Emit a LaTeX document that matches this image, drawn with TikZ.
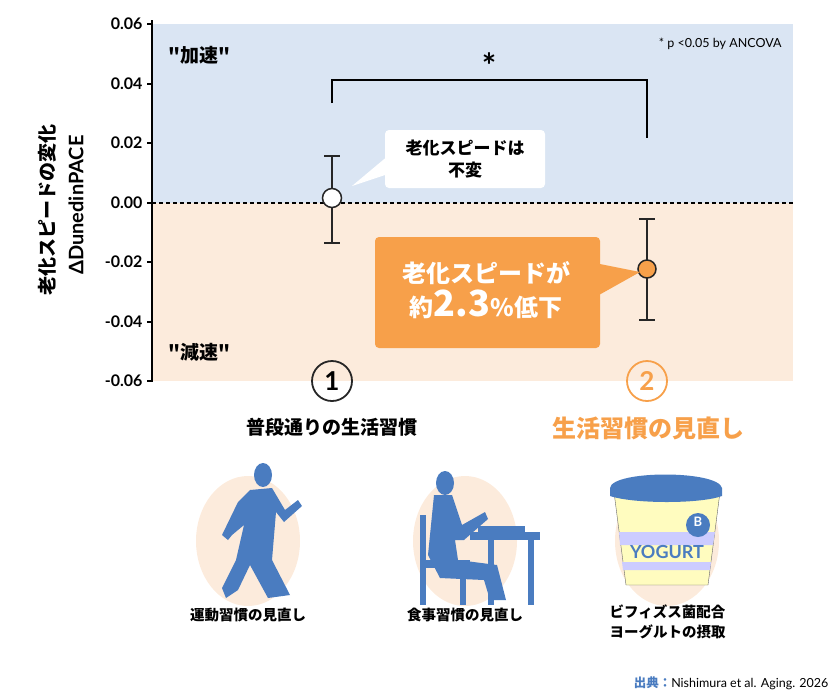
\documentclass[tikz,border=0pt]{standalone}
\usepackage{fontspec}
\setmainfont{Lato}
\newfontfamily\jp{Noto Sans CJK JP}
\begin{document}
\begin{tikzpicture}[x=1pt,y=-1pt,
  tick/.style={font=\fontsize{16}{16}\selectfont\bfseries, anchor=east},
  eb/.style={line width=1.5pt, draw=black!85},
  jcap/.style={font=\jp\fontsize{19}{20}\selectfont\bfseries}]
\definecolor{fg}{HTML}{4A7CC0}
\definecolor{org}{HTML}{F7A04A}
\definecolor{bband}{HTML}{DAE5F3}
\definecolor{oband}{HTML}{FCEBDC}
\useasboundingbox (0,0) rectangle (840,694);
% bands
\fill[bband] (152,24) rectangle (793,203);
\fill[oband] (152,203) rectangle (793,381);
\draw[line width=2pt, dash pattern=on 4pt off 3pt] (152,203) -- (793,203);
\draw[line width=2pt] (152,20) -- (152,382);
\foreach \v/\y in {0.06/24,0.04/84,0.02/143,0.00/203,-0.02/262,-0.04/322,-0.06/381}{
  \draw[line width=1.5pt] (147,\y) -- (152,\y);
  \node[tick] (t\y) at (146,\y) {\v};}
\node[font=\jp\fontsize{19}{20}\selectfont\bfseries, rotate=90] (yl1) at (47,210) {老化スピードの変化};
\node[font=\fontsize{20}{18}\selectfont\bfseries, rotate=90] (yl2) at (76,205) {ΔDunedinPACE};
\node[jcap, anchor=west] (acc) at (165,55) {"加速"};
\node[jcap, anchor=west] (dec) at (165,352) {"減速"};
\node[font=\fontsize{12.5}{12}\selectfont, anchor=east] (ancova) at (785,44) {* p <0.05 by ANCOVA};
% bracket
\draw[line width=1.5pt] (332,103) -- (332,80) -- (647,80) -- (647,138);
\node[font=\fontsize{34}{34}\selectfont\bfseries] (star) at (489,66) {*};
% error bars
\draw[eb] (332,156) -- (332,243) (324,156)--(340,156) (324,243)--(340,243);
\draw[eb] (647,219) -- (647,320) (639,219)--(655,219) (639,320)--(655,320);
\node[circle, draw=black!85, line width=1.5pt, fill=white, minimum size=19pt, inner sep=0] (p1) at (332,198) {};
\node[circle, draw=black!85, line width=1.5pt, fill=org, minimum size=18pt, inner sep=0] (p2) at (647,269) {};
% callouts
\fill[white, rounded corners=4pt] (385,130) rectangle (545,188);
\fill[white] (395,150) -- (352,186) -- (400,170) -- cycle;
\node[font=\jp\fontsize{17}{22}\selectfont\bfseries, align=center] (c1) at (465,159) {老化スピードは\\不変};
\fill[org, rounded corners=4pt] (375,237) rectangle (600,348);
\fill[org] (590,262) -- (640,272) -- (590,300) -- cycle;
\node[font=\jp\fontsize{24}{34}\selectfont\bfseries, text=white, align=center] (c2) at (486,290) {老化スピードが\\約{\fontsize{36}{30}\selectfont 2.3}\%低下};
% groups
\node[circle, draw=black!85, line width=1.8pt, minimum size=40pt, inner sep=0, font=\fontsize{26}{26}\selectfont\bfseries] (g1) at (332,381) {1};
\node[circle, draw=org, line width=1.8pt, minimum size=40pt, inner sep=0, font=\fontsize{26}{26}\selectfont\bfseries, text=org] (g2) at (647,381) {2};
\node[font=\jp\fontsize{19}{20}\selectfont\bfseries] (l1) at (332,427) {普段通りの生活習慣};
\node[font=\jp\fontsize{24}{24}\selectfont\bfseries, text=org] (l2) at (648,428) {生活習慣の見直し};
% icons
\fill[oband] (248,541) ellipse (52 and 65);
\fill[oband] (465,541) ellipse (52 and 65);
\fill[oband] (667,541) ellipse (52 and 65);
% walker
\fill[fg] (263,475) ellipse (9 and 12);
\fill[fg] (250,490) -- (272,488) -- (285,510) -- (298,500) -- (302,506) -- (284,522) -- (276,512) -- (272,560) -- (290,595) -- (268,598) -- (250,565) -- (238,590) -- (226,598) -- (222,588) -- (236,560) -- (244,525) -- (232,535) -- (228,540) -- (222,535) -- (238,502) -- cycle;
% eater
\fill[fg] (445,483) ellipse (9 and 12);
\fill[fg] (434,495) -- (452,495) -- (462,525) -- (485,512) -- (488,519) -- (464,540) -- (455,540) -- (458,560) -- (497,565) -- (506,600) -- (490,600) -- (484,580) -- (440,578) -- (428,555) -- cycle;
\fill[fg] (420,515) rectangle (426,605);
\fill[fg] (420,560) rectangle (470,568);
\fill[fg] (460,565) rectangle (466,605);
\fill[fg] (470,532) rectangle (540,540);
\fill[fg] (488,538) rectangle (494,605);
\fill[fg] (528,538) rectangle (534,605);
\fill[fg] (478,526) rectangle (525,532);
% yogurt
\fill[yellow!25, draw=black!60] (614,492) -- (720,492) -- (708,585) -- (626,585) -- cycle;
\fill[blue!20] (619,532) -- (715,532) -- (713,545) -- (620,545) -- cycle;
\fill[blue!20] (622,562) -- (711,562) -- (710,570) -- (623,570) -- cycle;
\fill[fg] (610,488) .. controls (612,470) and (718,470) .. (722,488) -- (722,496) .. controls (700,504) and (634,504) .. (610,496) -- cycle;
\fill[fg] (698,525) circle (12);
\node[font=\fontsize{13}{13}\selectfont\bfseries, text=white] (bb) at (698,522) {B};
\node[font=\fontsize{18}{18}\selectfont\bfseries, text=fg] (yg) at (667,552) {YOGURT};
\node[font=\jp\fontsize{14.5}{15}\selectfont\bfseries] (i1) at (248,615) {運動習慣の見直し};
\node[font=\jp\fontsize{14.5}{15}\selectfont\bfseries] (i2) at (465,615) {食事習慣の見直し};
\node[font=\jp\fontsize{14.5}{20}\selectfont\bfseries, align=left, anchor=north west] (i3) at (606,601) {ビフィズス菌配合\\ヨーグルトの摂取};
\node[font=\fontsize{12.5}{12}\selectfont, anchor=east] (src) at (832,683) {{\jp\bfseries\color{fg}出典：}Nishimura et al. Aging. 2026};
\end{tikzpicture}
\end{document}
